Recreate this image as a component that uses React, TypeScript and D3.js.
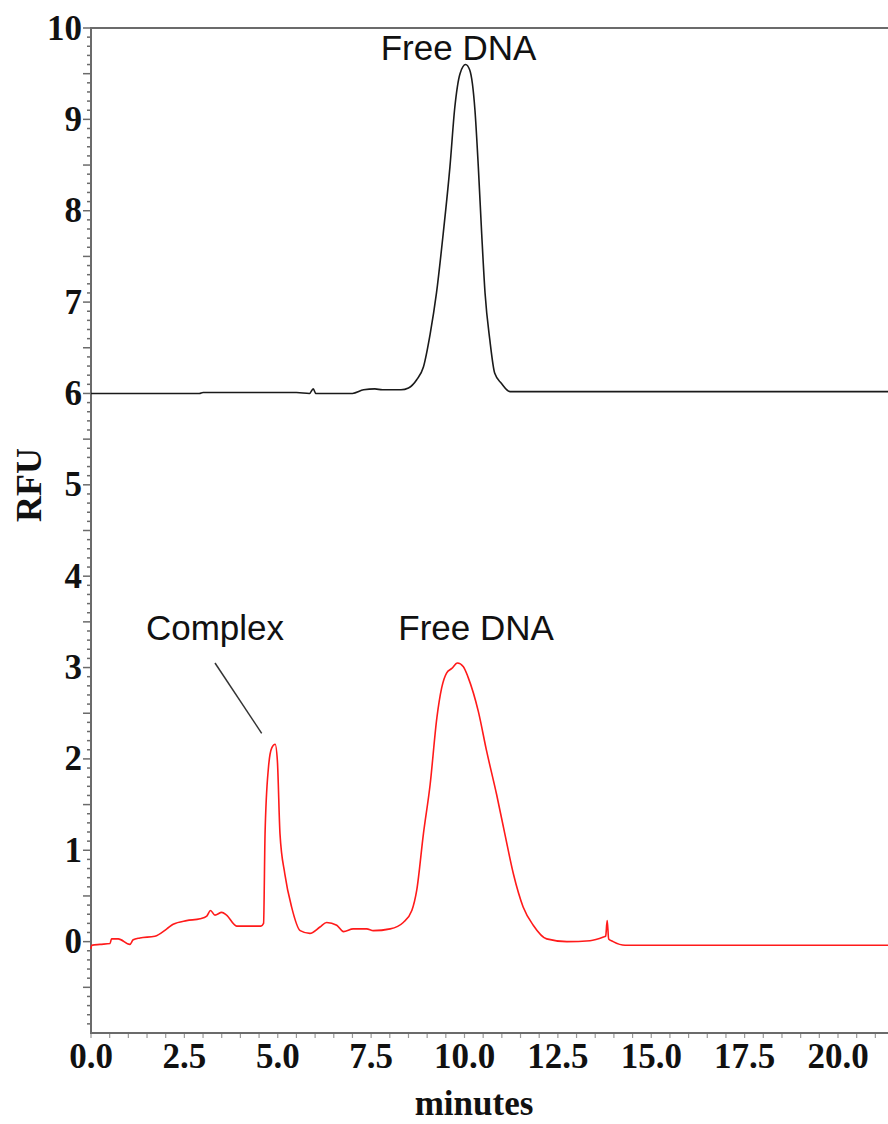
import React from "react";
import * as d3 from "d3";

const topTime = [0, 2.9, 3.0, 5.5, 5.85, 5.95, 6.02, 7.0, 7.3, 7.6, 7.8, 8.3, 8.5, 8.72, 8.9, 9.08, 9.25, 9.43, 9.61, 9.74, 9.88, 10.03, 10.14, 10.28, 10.37, 10.46, 10.55, 10.68, 10.81, 10.99, 11.22, 21.4];
const topRfu = [6.0, 6.0, 6.01, 6.01, 6.0, 6.05, 6.0, 6.0, 6.04, 6.05, 6.04, 6.04, 6.06, 6.15, 6.29, 6.65, 7.1, 7.75, 8.48, 9.13, 9.5, 9.6, 9.54, 9.1, 8.48, 7.75, 7.1, 6.58, 6.22, 6.11, 6.02, 6.02];

const bottomTime = [0, 0.02, 0.24, 0.51, 0.55, 0.73, 1.04, 1.13, 1.31, 1.71, 2.03, 2.2, 2.56, 2.92, 3.1, 3.2, 3.32, 3.5, 3.63, 3.9, 4.55, 4.62, 4.66, 4.75, 4.84, 4.93, 4.99, 5.06, 5.19, 5.37, 5.6, 5.86, 6.13, 6.31, 6.58, 6.76, 7.02, 7.38, 7.56, 8.01, 8.36, 8.59, 8.72, 8.9, 9.08, 9.26, 9.39, 9.52, 9.66, 9.81, 9.97, 10.1, 10.37, 10.59, 10.86, 11.08, 11.31, 11.57, 11.84, 12.2, 12.74, 13.36, 13.72, 13.78, 13.82, 13.86, 13.98, 14.3, 21.4];
const bottomRfu = [-0.08, -0.04, -0.03, -0.02, 0.03, 0.03, -0.03, 0.02, 0.04, 0.06, 0.14, 0.19, 0.23, 0.25, 0.28, 0.34, 0.29, 0.32, 0.29, 0.17, 0.17, 0.2, 1.18, 1.9, 2.12, 2.16, 1.98, 1.18, 0.74, 0.38, 0.12, 0.09, 0.16, 0.21, 0.18, 0.11, 0.14, 0.14, 0.12, 0.14, 0.21, 0.34, 0.56, 1.18, 1.72, 2.45, 2.78, 2.94, 2.99, 3.05, 3.01, 2.89, 2.52, 2.09, 1.61, 1.18, 0.74, 0.38, 0.18, 0.03, 0.0, 0.01, 0.05, 0.06, 0.23, 0.03, 0.0, -0.04, -0.04];

const xTickLabels = ["0.0", "2.5", "5.0", "7.5", "10.0", "12.5", "15.0", "17.5", "20.0"];
const yTickLabels = ["0", "1", "2", "3", "4", "5", "6", "7", "8", "9", "10"];

const annotationTexts = ["Free DNA", "Complex", "Free DNA"];
const annotationTime = [9.84, 3.32, 10.31];
const annotationRfu = [9.65, 3.3, 3.3];
const leaderTime = [3.32, 4.57];
const leaderRfu = [3.05, 2.28];

const W = 888;
const H = 1124;
const left = 91;
const right = 888;
const top = 28;
const bottom = 1033;

export default function App() {
  const x = d3.scaleLinear().domain([0, (right - left) / 37.35]).range([left, right]);
  const y = d3.scaleLinear().domain([-1, 10]).range([bottom, top]);

  const line = d3
    .line<[number, number]>()
    .x((d) => x(d[0]))
    .y((d) => y(d[1]))
    .curve(d3.curveMonotoneX);

  const topPts = topTime.map((t, i) => [t, topRfu[i]] as [number, number]);
  const botPts = bottomTime.map((t, i) => [t, bottomRfu[i]] as [number, number]);

  const yMinor = d3.range(-9, 101).map((v) => v / 10);
  const xMinor = d3.range(0, 43).map((v) => v / 2).filter((v) => x(v) <= right);

  const axisColor = "#6b6b6b";
  const serif = "'Liberation Serif', 'Times New Roman', serif";
  const sans = "'Liberation Sans', Arial, sans-serif";

  return (
    <svg width={W} height={H} style={{ position: "absolute", left: 0, top: 0, background: "#fff" }}>
      <rect x={0} y={0} width={W} height={H} fill="#fff" />
      {yMinor.map((v, i) => {
        const isMajor = Math.abs(v * 2 - Math.round(v * 2)) < 1e-6;
        const len = isMajor ? 8 : 4;
        return (
          <line key={"yt" + i} x1={left - len} x2={left} y1={y(v)} y2={y(v)} stroke={axisColor} strokeWidth={1.5} />
        );
      })}
      {xMinor.map((v, i) => (
        <line key={"xt" + i} x1={x(v)} x2={x(v)} y1={bottom} y2={bottom + 5} stroke="#999" strokeWidth={1.2} />
      ))}
      <line x1={left} x2={left} y1={top - 1} y2={bottom + 1} stroke={axisColor} strokeWidth={2} />
      <line x1={left} x2={right} y1={bottom} y2={bottom} stroke={axisColor} strokeWidth={2} />
      <line x1={left} x2={right} y1={top} y2={top} stroke={axisColor} strokeWidth={2} />

      {yTickLabels.map((s, i) => (
        <text
          key={"yl" + i}
          x={left - 9}
          y={y(+s)}
          textAnchor="end"
          dominantBaseline="central"
          fontFamily={serif}
          fontWeight="bold"
          fontSize={35}
          fill="#111"
        >
          {s}
        </text>
      ))}
      {xTickLabels.map((s, i) => (
        <text
          key={"xl" + i}
          x={x(+s)}
          y={1068}
          textAnchor="middle"
          fontFamily={serif}
          fontWeight="bold"
          fontSize={35}
          fill="#111"
        >
          {s}
        </text>
      ))}
      <text
        x={474}
        y={1115}
        textAnchor="middle"
        fontFamily={serif}
        fontWeight="bold"
        fontSize={35}
        fill="#111"
      >
        minutes
      </text>
      <text
        transform={`translate(41, 485) rotate(-90)`}
        textAnchor="middle"
        fontFamily={serif}
        fontWeight="bold"
        fontSize={36}
        fill="#111"
      >
        RFU
      </text>

      <path d={line(topPts) || ""} fill="none" stroke="#1a1a1a" strokeWidth={1.6} strokeLinejoin="round" />
      <path d={line(botPts) || ""} fill="none" stroke="#ff1a1a" strokeWidth={1.6} strokeLinejoin="round" />

      <line
        x1={x(leaderTime[0])}
        y1={y(leaderRfu[0])}
        x2={x(leaderTime[1])}
        y2={y(leaderRfu[1])}
        stroke="#333"
        strokeWidth={1.5}
      />
      {annotationTexts.map((s, i) => (
        <text
          key={"an" + i}
          x={x(annotationTime[i])}
          y={y(annotationRfu[i])}
          textAnchor="middle"
          fontFamily={sans}
          fontSize={35}
          fill="#111"
        >
          {s}
        </text>
      ))}
    </svg>
  );
}
